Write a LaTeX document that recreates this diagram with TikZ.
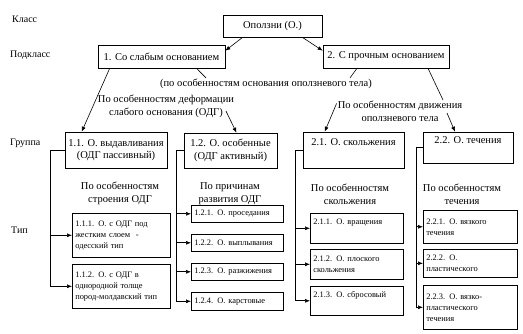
\documentclass[tikz,border=0pt]{standalone}
\usepackage{fontspec}
\setmainfont{Liberation Serif}
\usetikzlibrary{arrows.meta,positioning}

\begin{document}
\begin{tikzpicture}[x=1pt,y=-1pt,
  box/.style={draw, line width=0.6pt, align=center, inner sep=2pt,
    font=\fontsize{10.5}{12.5}\selectfont},
  leaf/.style={draw, line width=0.6pt, anchor=north west, align=left,
    inner sep=3pt, font=\fontsize{8.4}{11}\selectfont},
  lbl/.style={align=center, inner sep=1pt, font=\fontsize{10.5}{13}\selectfont},
  lvl/.style={anchor=west, inner sep=0pt, font=\fontsize{10}{12}\selectfont},
  arr/.style={-{Latex[length=5pt,width=4pt]}, line width=0.6pt},
  con/.style={line width=0.6pt}]

  \useasboundingbox (0,0) rectangle (523,334);

  % levels
  \node[lvl] (lvlclass) at (12,19) {Класс};
  \node[lvl] (lvlsub) at (10,55) {Подкласс};
  \node[lvl] (lvlgroup) at (10,143) {Группа};
  \node[lvl] (lvltype) at (11,230) {Тип};

  % class and subclasses
  \node[box, minimum width=99, minimum height=22] (top) at (272.5,26) {Оползни (О.)};
  \node[box, minimum width=127, minimum height=23] (b1) at (161.5,56.5) {1. Со слабым основанием};
  \node[box, minimum width=126, minimum height=23] (b2) at (386,56.5) {2. С прочным основанием};

  \draw[arr] ([xshift=20pt]top.south west) -- ([yshift=-6pt]b1.north east);
  \draw[arr] ([xshift=-20pt]top.south east) -- ([yshift=-6pt]b2.north west);

  \node[lbl] (lbl0) at (266,84) {(по особенностям основания оползневого тела)};
  \draw[con] ([xshift=35pt]b1.south) -- ([xshift=-60pt]lbl0.north);
  \draw[con] ([xshift=-29pt]b2.south) -- ([xshift=84pt]lbl0.north);

  % groups
  \node[lbl] (lbl1) at (166,106.5) {По особенностям деформации\\слабого основания (ОДГ)};
  \node[lbl] (lbl2) at (400,111.5) {По особенностям движения\\оползневого тела};

  \node[box, minimum width=102, minimum height=36] (g11) at (116,150) {1.1. О. выдавливания\\(ОДГ пассивный)};
  \node[box, minimum width=93, minimum height=35] (g12) at (230.5,150.5) {1.2. О. особенные\\(ОДГ активный)};
  \node[box, minimum width=101, minimum height=36, text depth=15pt] (g21) at (353.5,150) {2.1. О. скольжения};
  \node[box, minimum width=90, minimum height=31, text depth=15pt] (g22) at (468,147.5) {2.2. О. течения};

  \draw[arr] ([xshift=12pt]b1.south west) -- ([xshift=17pt]g11.north west);
  \draw[arr] ([xshift=60pt,yshift=8pt]lbl1.south) -- ([xshift=6pt]g12.north);
  \draw[con] ([xshift=42pt]b2.south) -- ([xshift=43pt]lbl2.north);
  \draw[arr] ([xshift=47pt,yshift=10pt]lbl2.south) -- ([xshift=-13pt]g22.north);
  \draw[arr] ([yshift=8pt]lbl2.west) -- ([xshift=22pt]g21.north west);

  \node[lbl] (lbl11) at (120,193.5) {По особенностям\\строения ОДГ};
  \node[lbl] (lbl12) at (230,193.5) {По причинам\\развития ОДГ};
  \node[lbl] (lbl21) at (350,194) {По особенностям\\скольжения};
  \node[lbl] (lbl22) at (462,194) {По особенностям\\течения};

  % types
  \node[leaf, minimum width=98, minimum height=44, text width=92] (t111) at (72,213)
    {1.1.1. О. с ОДГ под\\жестким слоем \ -\\одесский тип};
  \node[leaf, minimum width=98, minimum height=44, text width=92] (t112) at (72,264)
    {1.1.2. О. с ОДГ в\\однородной толще\\пород-молдавский тип};

  \node[leaf, minimum width=92, minimum height=17, text width=86] (t121) at (191,205) {1.2.1. О. проседания};
  \node[leaf, minimum width=92, minimum height=17, text width=86] (t122) at (191,234) {1.2.2. О. выплывания};
  \node[leaf, minimum width=92, minimum height=17, text width=86] (t123) at (191,263) {1.2.3. О. разжижения};
  \node[leaf, minimum width=92, minimum height=18, text width=86] (t124) at (191,292) {1.2.4. О. карстовые};

  \node[leaf, minimum width=93, minimum height=30, text width=87, text depth=13pt] (t211) at (310,213) {2.1.1. О. вращения};
  \node[leaf, minimum width=93, minimum height=30, text width=87] (t212) at (310,249) {2.1.2. О. плоского\\скольжения};
  \node[leaf, minimum width=93, minimum height=29, text width=87, text depth=13pt] (t213) at (310,286) {2.1.3. О. сбросовый};

  \node[leaf, minimum width=94, minimum height=33, text width=88] (t221) at (423,210) {2.2.1. О. вязкого\\течения};
  \node[leaf, minimum width=94, minimum height=28, text width=88] (t222) at (423,249) {2.2.2. О.\\пластического};
  \node[leaf, minimum width=94, minimum height=44, text width=88] (t223) at (423,285) {2.2.3. О. вязко-\\пластического\\течения};

  % buses
  \draw[arr] (g11.west) -- ++(-14,0) |- (t112.west);
  \draw[arr] ([xshift=-21pt]t111.west) -- (t111.west);

  \draw[arr] (g12.west) -- ++(-7,0) |- (t124.west);
  \foreach \t in {t121,t122,t123}
    \draw[arr] ([xshift=-14pt]\t.west) -- (\t.west);

  \draw[arr] (g21.west) -- ++(-7,0) |- (t213.west);
  \foreach \t in {t211,t212}
    \draw[arr] ([xshift=-14pt]\t.west) -- (\t.west);

  \draw[arr] (g22.west) -- ++(-6,0) |- (t223.west);
  \foreach \t in {t221,t222}
    \draw[arr] ([xshift=-6pt]\t.west) -- (\t.west);
\end{tikzpicture}
\end{document}
